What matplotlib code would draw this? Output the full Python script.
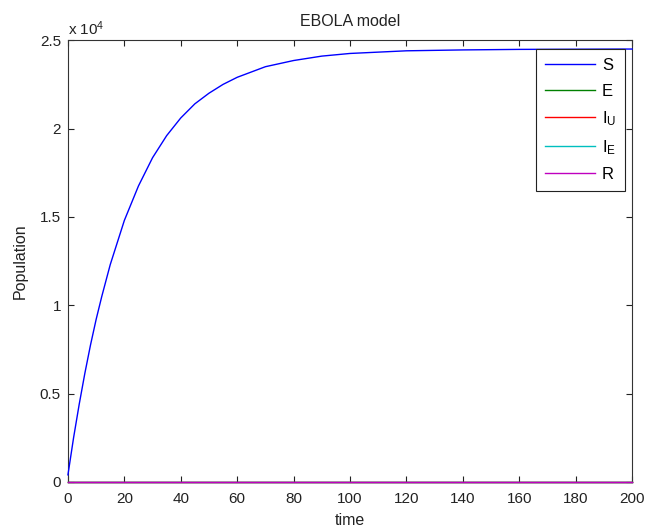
import matplotlib
matplotlib.use('Agg')
import matplotlib.pyplot as plt
from matplotlib.ticker import FuncFormatter

plt.rcParams['font.family'] = ['Liberation Sans', 'DejaVu Sans']
plt.rcParams['mathtext.fontset'] = 'custom'
plt.rcParams['mathtext.rm'] = 'Liberation Sans'
plt.rcParams['mathtext.it'] = 'Liberation Sans'

# time points
t = [0, 2, 4, 6, 8, 10, 12, 15, 20, 25, 30, 35, 40, 45, 50,
     55, 60, 70, 80, 90, 100, 120, 140, 160, 180, 200]
# populations (individuals)
S = [400, 2500, 4400, 6150, 7750, 9200, 10500, 12300, 14800, 16750, 18350,
     19600, 20600, 21400, 22000, 22500, 22900, 23500, 23850, 24100, 24250,
     24400, 24450, 24480, 24490, 24500]
E = [0] * len(t)
I_U = [0] * len(t)
I_E = [0] * len(t)
R = [0] * len(t)

labels = ['S', 'E', r'I$_\mathrm{U}$', r'I$_\mathrm{E}$', 'R']
colors = ['#0000ff', '#008000', '#ff0000', '#00bfbf', '#bf00bf']

fig = plt.figure(figsize=(6.47, 5.29), dpi=100)
ax = fig.add_axes([0.105, 0.089, 0.872, 0.835])

for y, lab, c in zip([S, E, I_U, I_E, R], labels, colors):
    ax.plot(t, y, color=c, lw=1.0, label=lab, clip_on=False, zorder=3)

ax.set_xlim(0, 200)
ax.set_ylim(0, 25000)
ax.set_xticks(range(0, 201, 20))
ax.set_yticks([0, 5000, 10000, 15000, 20000, 25000])
ax.yaxis.set_major_formatter(FuncFormatter(lambda v, p: '%g' % (v / 1e4)))
ax.tick_params(direction='in', top=True, right=True, length=4, labelsize=11,
               colors='#222222')
ax.tick_params(axis='x', pad=7)
ax.tick_params(axis='y', pad=5)
for s in ax.spines.values():
    s.set_color('#333333')
    s.set_linewidth(0.8)

ax.text(0.0, 1.005, r'x 10$^4$', transform=ax.transAxes, fontsize=11,
        ha='left', va='bottom', color='#222222')
ax.set_title('EBOLA model', fontsize=11.5, pad=10, color='#222222')
ax.set_xlabel('time', fontsize=11.5, labelpad=5, color='#222222')
ax.set_ylabel('Population', fontsize=11.5, labelpad=9, color='#222222')

leg = ax.legend(loc='upper right', bbox_to_anchor=(0.988, 0.98), fontsize=12,
                handlelength=3.0, labelspacing=0.62, fancybox=False,
                framealpha=1, edgecolor='#222222', borderaxespad=0.0,
                handletextpad=0.4, borderpad=0.55)
leg.get_frame().set_linewidth(0.8)

fig.savefig('out.png', dpi=100)
